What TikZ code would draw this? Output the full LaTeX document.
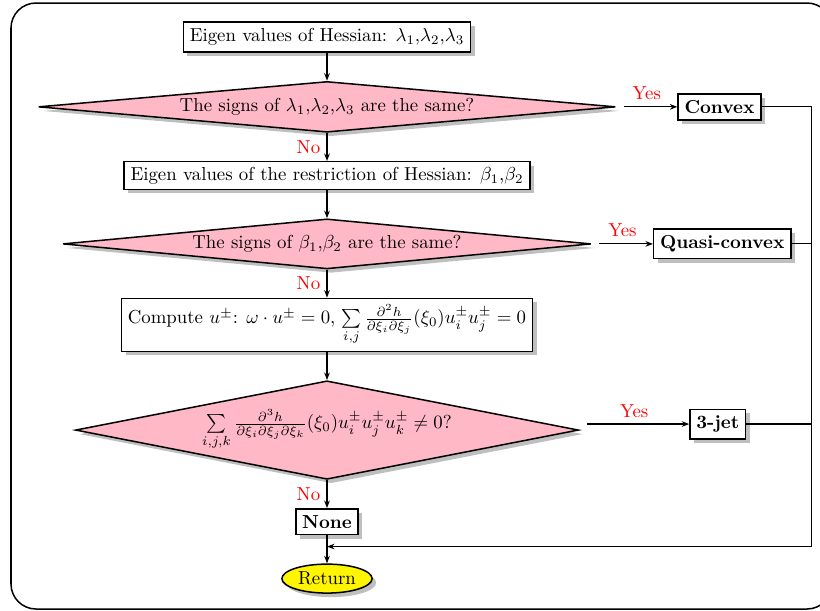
\documentclass[tikz,border=0pt]{standalone}
\usepackage{amsmath}
\usepackage{amssymb}
\usepackage{tikz}
\usetikzlibrary{shapes,arrows.meta,positioning,calc,shadows}
\definecolor{fcPink}{RGB}{255,184,198}
\definecolor{fcYellow}{RGB}{255,245,0}
\tikzset{
    fcBox/.style={
        rectangle,
        draw,
        thick,
        fill=white,
        drop shadow,
        inner sep=3.4pt
    },
    fcTest/.style={
        diamond,
        draw,
        thick,
        fill=fcPink,
        drop shadow,
        aspect=10,
        inner sep=0pt
    },
    fcStop/.style={
        ellipse,
        draw,
        thick,
        fill=fcYellow,
        drop shadow,
        inner sep=0pt,
        minimum width=48pt,
        minimum height=15.4pt
    },
    % Outcomes
    fcResult/.style={fcBox, font=\bfseries},
    % Arrows and labels
    fcArrow/.style={-{Stealth[length=4pt,width=3pt]}, semithick},
    fcLine/.style={semithick},
    fcYes/.style={midway, above, text=red},
    fcNo/.style={midway, left, text=red}
}

\begin{document}
\begin{tikzpicture}[x=0.532pt, y=-0.532pt, node distance=14.9pt]
\useasboundingbox (0,0) rectangle (820,610);
\draw[thick, rounded corners=13.3pt] (11,3) rectangle (832,609);

% main column
\node[fcBox, minimum height=15.6pt] (eig) at (327,37) {Eigen values of Hessian: $\lambda_1$,$\lambda_2$,$\lambda_3$};
\node[fcTest, below=of eig, minimum width=307pt, minimum height=27pt] (sgnL) {The signs of $\lambda_1$,$\lambda_2$,$\lambda_3$ are the same?};
\node[fcBox, below=of sgnL, inner ysep=2.8pt] (restr) {Eigen values of the restriction of Hessian: $\beta_1$,$\beta_2$};
\node[fcTest, below=of restr, minimum width=281pt, minimum height=26.6pt] (sgnB) {The signs of $\beta_1$,$\beta_2$ are the same?};
\node[fcBox, below=of sgnB, minimum height=28pt] (upm) {Compute $u^{\pm}$: $\omega\cdot u^{\pm}=0$, $\sum\limits_{i,j}\frac{\partial^2 h}{\partial\xi_i\partial\xi_j}(\xi_0)u_i^{\pm}u_j^{\pm}=0$};
\node[fcTest, below=of upm, aspect=5, minimum width=267.6pt, minimum height=52.4pt] (jetT) {$\sum\limits_{i,j,k}\frac{\partial^3 h}{\partial\xi_i\partial\xi_j\partial\xi_k}(\xi_0)u_i^{\pm}u_j^{\pm}u_k^{\pm}\neq0$?};
\node[fcResult, below=of jetT] (none) {None};
\node[fcStop, below=of none] (ret) {Return};

% outcomes
\node[fcResult, right=32.5pt of sgnL] (cvx) {Convex};
\node[fcResult, right=32.5pt of sgnB] (qcvx) {Quasi-convex};
\node[fcResult, right=58.5pt of jetT, yshift=3.2pt] (jet) {3-jet};

\coordinate (rail) at ($(cvx.east)+(50,0)$);
\coordinate (merge) at ($(none.south)!0.4!(ret.north)$);

\draw[fcArrow] (eig) -- (sgnL);
\draw[fcArrow] (sgnL) -- node[fcNo] {No} (restr);
\draw[fcArrow] (restr) -- (sgnB);
\draw[fcArrow] (sgnB) -- node[fcNo] {No} (upm);
\draw[fcArrow] (upm) -- (jetT);
\draw[fcArrow] (jetT) -- node[fcNo] {No} (none);
\draw[fcArrow] (none) -- (ret);

\draw[fcArrow, shorten <=4pt] (sgnL) -- node[fcYes] {Yes} (cvx);
\draw[fcArrow, shorten <=4pt] (sgnB) -- node[fcYes] {Yes} (qcvx);
\draw[fcArrow, shorten <=4pt] (jetT.east |- jet.west) -- node[fcYes] {Yes} (jet);

% back to return
\draw[fcLine] (qcvx) -- (qcvx -| rail);
\draw[fcLine] (jet) -- (jet -| rail);
\draw[fcArrow] (cvx) -| (rail |- merge) -- (merge);
\end{tikzpicture}
\end{document}
